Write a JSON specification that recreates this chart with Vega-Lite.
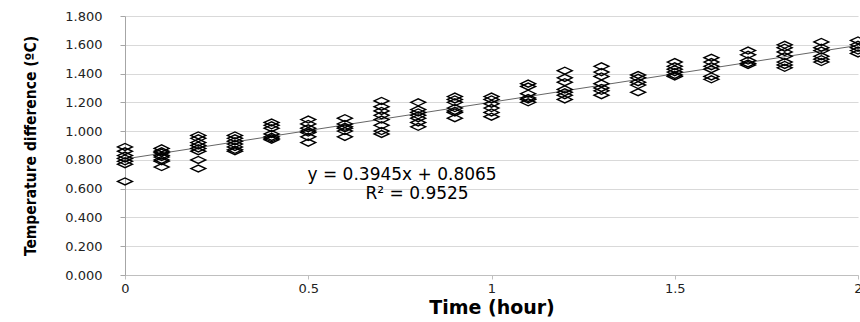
{
  "$schema": "https://vega.github.io/schema/vega-lite/v6.json",
  "width": 733,
  "height": 259,
  "autosize": {"type": "none"},
  "padding": {"left": 125, "top": 16, "right": 2, "bottom": 47},
  "background": "white",
  "config": {"view": {"stroke": null}},
  "datasets": {
    "pts": [
      {"t": 0, "dT": 0.89}, {"t": 0, "dT": 0.86}, {"t": 0, "dT": 0.83}, {"t": 0, "dT": 0.81}, {"t": 0, "dT": 0.79}, {"t": 0, "dT": 0.77}, {"t": 0, "dT": 0.65},
      {"t": 0.1, "dT": 0.88}, {"t": 0.1, "dT": 0.86}, {"t": 0.1, "dT": 0.85}, {"t": 0.1, "dT": 0.83}, {"t": 0.1, "dT": 0.82}, {"t": 0.1, "dT": 0.8}, {"t": 0.1, "dT": 0.79}, {"t": 0.1, "dT": 0.75},
      {"t": 0.2, "dT": 0.97}, {"t": 0.2, "dT": 0.95}, {"t": 0.2, "dT": 0.92}, {"t": 0.2, "dT": 0.9}, {"t": 0.2, "dT": 0.88}, {"t": 0.2, "dT": 0.86}, {"t": 0.2, "dT": 0.8}, {"t": 0.2, "dT": 0.74},
      {"t": 0.3, "dT": 0.97}, {"t": 0.3, "dT": 0.95}, {"t": 0.3, "dT": 0.93}, {"t": 0.3, "dT": 0.91}, {"t": 0.3, "dT": 0.89}, {"t": 0.3, "dT": 0.87}, {"t": 0.3, "dT": 0.86},
      {"t": 0.4, "dT": 1.06}, {"t": 0.4, "dT": 1.04}, {"t": 0.4, "dT": 1.02}, {"t": 0.4, "dT": 0.98}, {"t": 0.4, "dT": 0.96}, {"t": 0.4, "dT": 0.95}, {"t": 0.4, "dT": 0.94},
      {"t": 0.5, "dT": 1.08}, {"t": 0.5, "dT": 1.05}, {"t": 0.5, "dT": 1.02}, {"t": 0.5, "dT": 1.0}, {"t": 0.5, "dT": 0.99}, {"t": 0.5, "dT": 0.96}, {"t": 0.5, "dT": 0.92},
      {"t": 0.6, "dT": 1.09}, {"t": 0.6, "dT": 1.05}, {"t": 0.6, "dT": 1.03}, {"t": 0.6, "dT": 1.02}, {"t": 0.6, "dT": 1.0}, {"t": 0.6, "dT": 0.96},
      {"t": 0.7, "dT": 1.21}, {"t": 0.7, "dT": 1.17}, {"t": 0.7, "dT": 1.14}, {"t": 0.7, "dT": 1.11}, {"t": 0.7, "dT": 1.08}, {"t": 0.7, "dT": 1.04}, {"t": 0.7, "dT": 1.0}, {"t": 0.7, "dT": 0.98},
      {"t": 0.8, "dT": 1.2}, {"t": 0.8, "dT": 1.15}, {"t": 0.8, "dT": 1.13}, {"t": 0.8, "dT": 1.11}, {"t": 0.8, "dT": 1.09}, {"t": 0.8, "dT": 1.06}, {"t": 0.8, "dT": 1.03},
      {"t": 0.9, "dT": 1.24}, {"t": 0.9, "dT": 1.22}, {"t": 0.9, "dT": 1.2}, {"t": 0.9, "dT": 1.16}, {"t": 0.9, "dT": 1.14}, {"t": 0.9, "dT": 1.13}, {"t": 0.9, "dT": 1.09},
      {"t": 1.0, "dT": 1.24}, {"t": 1.0, "dT": 1.22}, {"t": 1.0, "dT": 1.19}, {"t": 1.0, "dT": 1.16}, {"t": 1.0, "dT": 1.13}, {"t": 1.0, "dT": 1.1},
      {"t": 1.1, "dT": 1.33}, {"t": 1.1, "dT": 1.31}, {"t": 1.1, "dT": 1.26}, {"t": 1.1, "dT": 1.23}, {"t": 1.1, "dT": 1.22}, {"t": 1.1, "dT": 1.2},
      {"t": 1.2, "dT": 1.42}, {"t": 1.2, "dT": 1.37}, {"t": 1.2, "dT": 1.34}, {"t": 1.2, "dT": 1.29}, {"t": 1.2, "dT": 1.27}, {"t": 1.2, "dT": 1.25}, {"t": 1.2, "dT": 1.22},
      {"t": 1.3, "dT": 1.45}, {"t": 1.3, "dT": 1.41}, {"t": 1.3, "dT": 1.38}, {"t": 1.3, "dT": 1.33}, {"t": 1.3, "dT": 1.3}, {"t": 1.3, "dT": 1.28}, {"t": 1.3, "dT": 1.25},
      {"t": 1.4, "dT": 1.39}, {"t": 1.4, "dT": 1.37}, {"t": 1.4, "dT": 1.34}, {"t": 1.4, "dT": 1.32}, {"t": 1.4, "dT": 1.27},
      {"t": 1.5, "dT": 1.48}, {"t": 1.5, "dT": 1.45}, {"t": 1.5, "dT": 1.43}, {"t": 1.5, "dT": 1.41}, {"t": 1.5, "dT": 1.39}, {"t": 1.5, "dT": 1.38},
      {"t": 1.6, "dT": 1.51}, {"t": 1.6, "dT": 1.48}, {"t": 1.6, "dT": 1.45}, {"t": 1.6, "dT": 1.43}, {"t": 1.6, "dT": 1.38}, {"t": 1.6, "dT": 1.36},
      {"t": 1.7, "dT": 1.56}, {"t": 1.7, "dT": 1.53}, {"t": 1.7, "dT": 1.49}, {"t": 1.7, "dT": 1.47}, {"t": 1.7, "dT": 1.46},
      {"t": 1.8, "dT": 1.6}, {"t": 1.8, "dT": 1.58}, {"t": 1.8, "dT": 1.55}, {"t": 1.8, "dT": 1.52}, {"t": 1.8, "dT": 1.48}, {"t": 1.8, "dT": 1.46}, {"t": 1.8, "dT": 1.44},
      {"t": 1.9, "dT": 1.62}, {"t": 1.9, "dT": 1.58}, {"t": 1.9, "dT": 1.56}, {"t": 1.9, "dT": 1.52}, {"t": 1.9, "dT": 1.5}, {"t": 1.9, "dT": 1.48},
      {"t": 2.0, "dT": 1.63}, {"t": 2.0, "dT": 1.6}, {"t": 2.0, "dT": 1.58}, {"t": 2.0, "dT": 1.56}, {"t": 2.0, "dT": 1.54}
    ],
    "trend": [
      {"t": 0, "dT": 0.8065},
      {"t": 2, "dT": 1.5955}
    ],
    "notes": [
      {"t": 0.756, "dT": 0.697, "label": "y = 0.3945x + 0.8065"},
      {"t": 0.797, "dT": 0.565, "label": "R² = 0.9525"}
    ]
  },
  "encoding": {
    "x": {
      "field": "t",
      "type": "quantitative",
      "scale": {"domain": [0, 2], "nice": false, "zero": false},
      "axis": {
        "title": "Time (hour)",
        "values": [0, 0.5, 1, 1.5, 2],
        "format": "~g",
        "grid": false,
        "domain": true,
        "domainColor": "#bfbfbf",
        "ticks": true,
        "tickColor": "#bfbfbf",
        "tickSize": 4,
        "labelFont": "DejaVu Sans",
        "labelFontSize": 13,
        "labelColor": "#222222",
        "labelPadding": 3,
        "labelFlush": false,
        "titleFont": "DejaVu Sans",
        "titleFontWeight": "bold",
        "titleFontSize": 19,
        "titleColor": "#000000",
        "titlePadding": 3
      }
    },
    "y": {
      "field": "dT",
      "type": "quantitative",
      "scale": {"domain": [0, 1.8], "nice": false},
      "axis": {
        "title": "Temperature difference (ºC)",
        "values": [0, 0.2, 0.4, 0.6, 0.8, 1.0, 1.2, 1.4, 1.6, 1.8],
        "format": ".3f",
        "grid": true,
        "gridColor": "#d9d9d9",
        "gridWidth": 1,
        "domain": true,
        "domainColor": "#a6a6a6",
        "ticks": true,
        "tickColor": "#a6a6a6",
        "tickSize": 5,
        "labelFont": "DejaVu Sans",
        "labelFontSize": 13,
        "labelColor": "#222222",
        "labelPadding": 18,
        "titleFont": "DejaVu Sans Condensed, Liberation Sans Narrow, Roboto, sans-serif",
        "titleFontWeight": "bold",
        "titleFontSize": 15.5,
        "titleColor": "#000000",
        "titlePadding": 26
      }
    }
  },
  "layer": [
    {
      "data": {"name": "trend"},
      "mark": {"type": "line", "color": "#666666", "strokeWidth": 1},
      "encoding": {}
    },
    {
      "data": {"name": "pts"},
      "mark": {
        "type": "point",
        "shape": "M-1,0L0,-0.47L1,0L0,0.47Z",
        "size": 220,
        "filled": false,
        "stroke": "#000000",
        "strokeWidth": 1.4,
        "opacity": 1
      },
      "encoding": {}
    },
    {
      "data": {"name": "notes"},
      "mark": {"type": "text", "font": "DejaVu Sans", "fontSize": 17, "color": "#000000", "align": "center", "baseline": "middle"},
      "encoding": {"text": {"field": "label"}}
    }
  ]
}
